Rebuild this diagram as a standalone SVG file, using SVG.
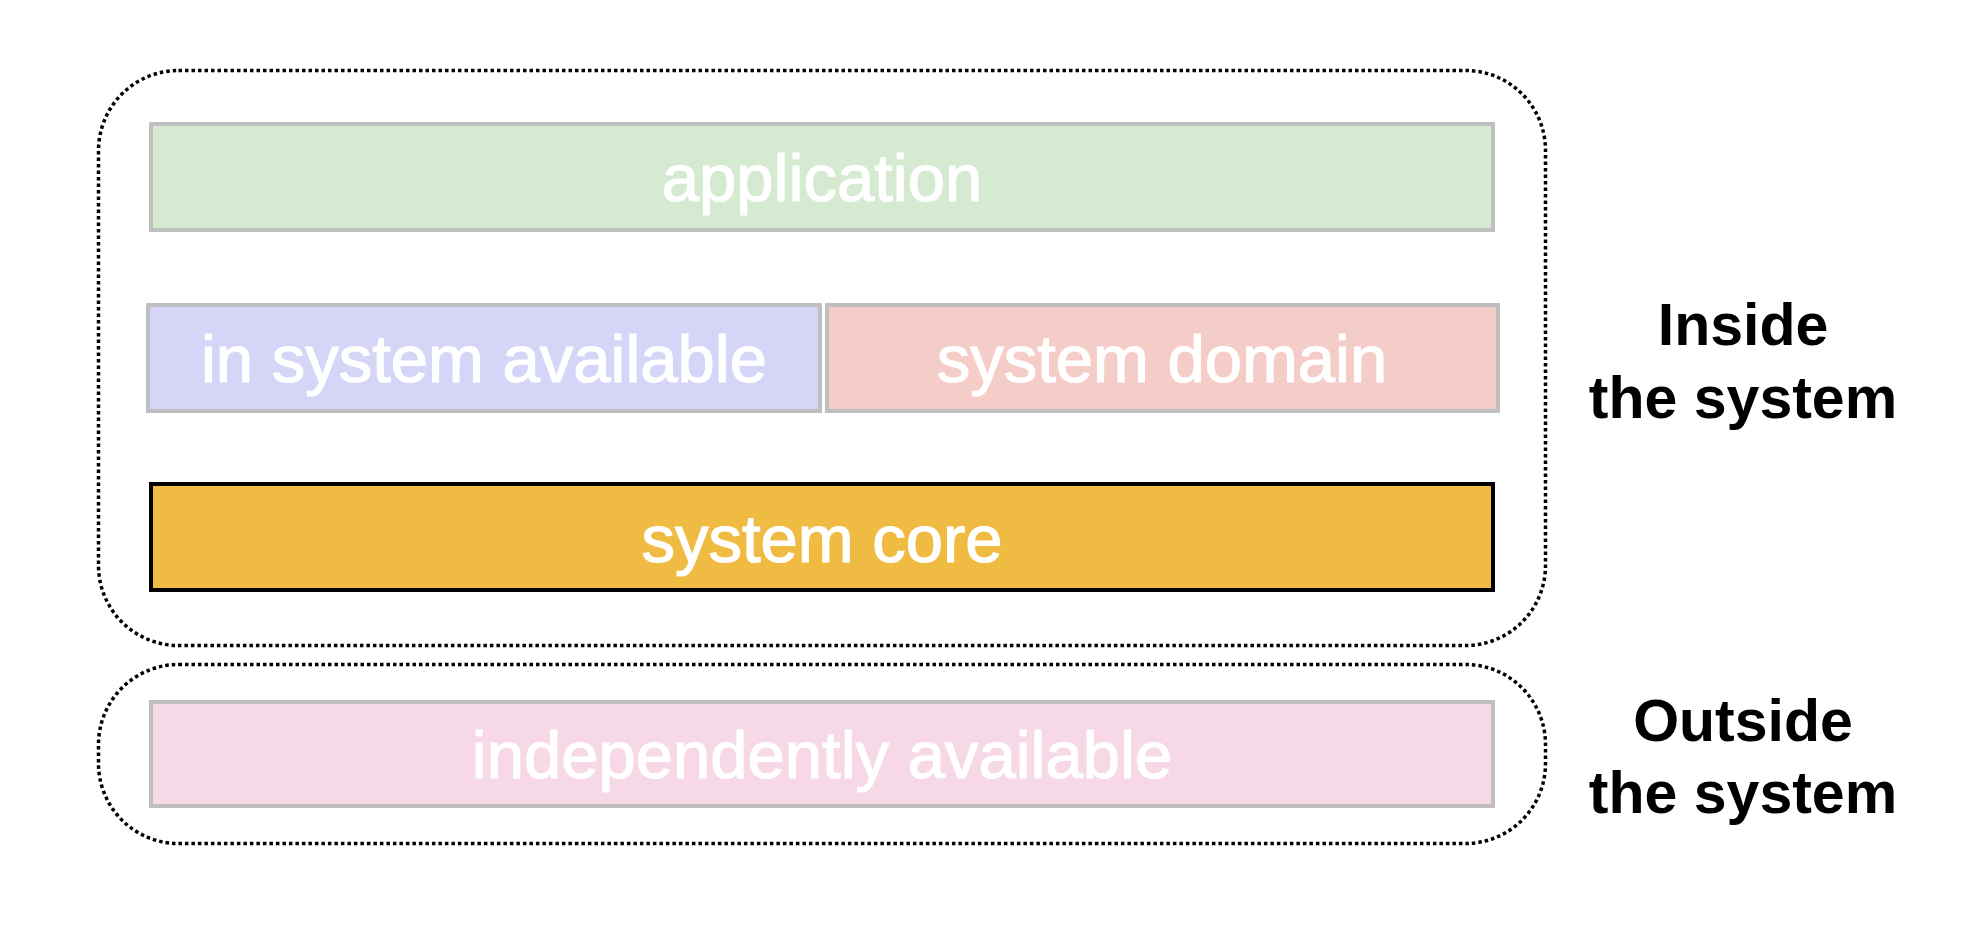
<svg xmlns="http://www.w3.org/2000/svg" width="1980" height="936" viewBox="0 0 1980 936">
  <style>
    .frame { fill: none; stroke: #000; stroke-width: 3.5; stroke-dasharray: 3.5 3; }
    .box { stroke: #bfbfbf; stroke-width: 4; }
    .core { stroke: #000; stroke-width: 4; }
    .lbl { font-family: "Liberation Sans", Arial, sans-serif; font-size: 67px; fill: #ffffff; stroke: #ffffff; stroke-width: 1.2; text-anchor: middle; }
    .side { font-family: "Liberation Sans", Arial, sans-serif; font-size: 59px; font-weight: bold; fill: #000; text-anchor: middle; }
  </style>
  <rect width="1980" height="936" fill="#ffffff"/>
  <g id="inside-frame">
    <rect class="frame" x="98.5" y="70.5" width="1447" height="575" rx="80" ry="80"/>
  </g>
  <g id="outside-frame">
    <rect class="frame" x="98.5" y="664.5" width="1447" height="179" rx="80" ry="80"/>
  </g>
  <g id="application">
    <rect class="box" x="151" y="124" width="1342" height="106" fill="#d5ead0"/>
    <text class="lbl" x="822" y="201">application</text>
  </g>
  <g id="in-system-available">
    <rect class="box" x="148" y="305" width="672" height="106" fill="#d4d5f7"/>
    <text class="lbl" x="484" y="382">in system available</text>
  </g>
  <g id="system-domain">
    <rect class="box" x="827" y="305" width="671" height="106" fill="#f5cdc8"/>
    <text class="lbl" x="1162" y="382">system domain</text>
  </g>
  <g id="system-core">
    <rect class="core" x="151" y="484" width="1342" height="106" fill="#f0bb42"/>
    <text class="lbl" x="822" y="562">system core</text>
  </g>
  <g id="independently-available">
    <rect class="box" x="151" y="702" width="1342" height="104" fill="#f6d8e6"/>
    <text class="lbl" x="822" y="778">independently available</text>
  </g>
  <g id="label-inside">
    <text class="side" x="1743" y="345">Inside</text>
    <text class="side" x="1743" y="418">the system</text>
  </g>
  <g id="label-outside">
    <text class="side" x="1743" y="741">Outside</text>
    <text class="side" x="1743" y="813">the system</text>
  </g>
  <g id="connectors"></g>
</svg>
